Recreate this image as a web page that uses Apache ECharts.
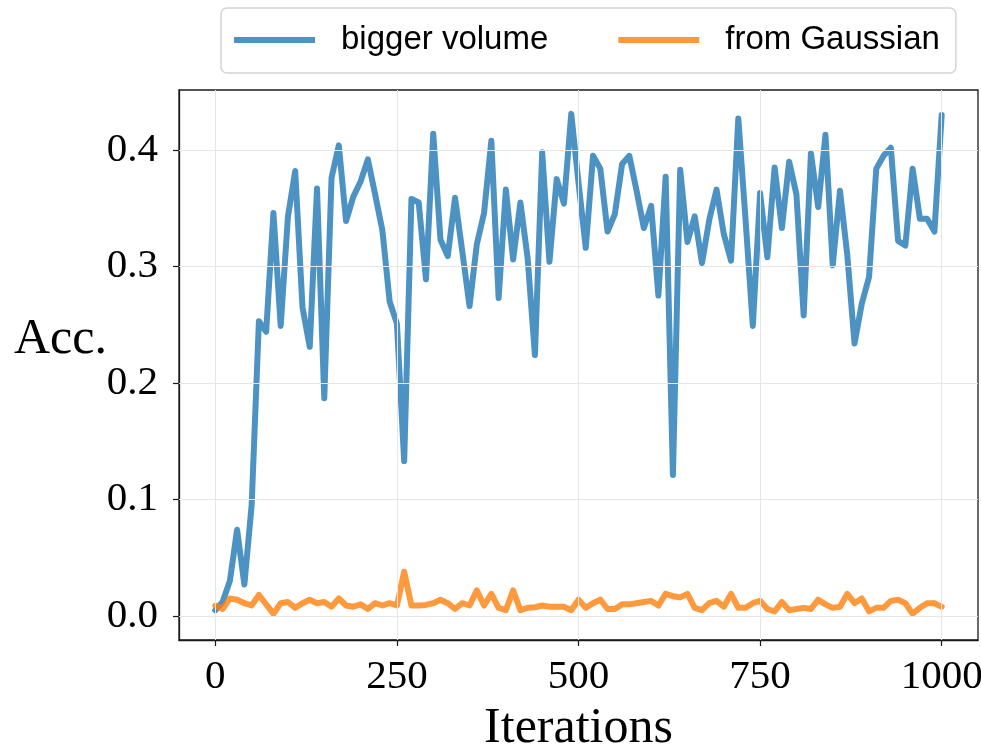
<!DOCTYPE html>
<html>
<head>
<meta charset="utf-8">
<style>
  html, body { margin: 0; padding: 0; background: #ffffff; }
  #chart { width: 981px; height: 747px; }
</style>
<script src="https://cdn.jsdelivr.net/npm/echarts@6/dist/echarts.min.js"></script>
</head>
<body>
<div id="chart"></div>
<script>
// Accuracy recorded every 10 iterations (0 … 1000)
const STEP = 10;
const iterations = Array.from({ length: 101 }, (_, i) => i * STEP);

const biggerVolume = [
  0.005, 0.012, 0.030, 0.074, 0.027, 0.095, 0.253, 0.244, 0.346, 0.249,
  0.343, 0.382, 0.265, 0.231, 0.367, 0.187, 0.376, 0.404, 0.339, 0.360,
  0.373, 0.392, 0.362, 0.331, 0.270, 0.251, 0.133, 0.358, 0.355, 0.289,
  0.414, 0.323, 0.309, 0.359, 0.313, 0.266, 0.319, 0.346, 0.408, 0.273,
  0.366, 0.306, 0.355, 0.307, 0.224, 0.398, 0.304, 0.375, 0.354, 0.431,
  0.372, 0.316, 0.395, 0.384, 0.330, 0.345, 0.388, 0.395, 0.365, 0.333,
  0.352, 0.275, 0.377, 0.121, 0.383, 0.321, 0.343, 0.303, 0.340, 0.366,
  0.328, 0.305, 0.427, 0.340, 0.249, 0.363, 0.308, 0.385, 0.333, 0.390,
  0.362, 0.258, 0.397, 0.351, 0.413, 0.301, 0.365, 0.310, 0.234, 0.268,
  0.291, 0.384, 0.395, 0.402, 0.322, 0.318, 0.384, 0.341, 0.341, 0.330,
  0.430
];

const fromGaussian = [
  0.009, 0.006, 0.015, 0.014, 0.011, 0.009, 0.018, 0.010, 0.002, 0.011,
  0.012, 0.007, 0.011, 0.014, 0.011, 0.012, 0.008, 0.015, 0.009, 0.008,
  0.010, 0.006, 0.011, 0.009, 0.011, 0.009, 0.038, 0.009, 0.009, 0.0095,
  0.011, 0.014, 0.011, 0.006, 0.011, 0.009, 0.022, 0.009, 0.019, 0.007,
  0.005, 0.022, 0.005, 0.007, 0.0075, 0.009, 0.008, 0.008, 0.008, 0.005,
  0.014, 0.007, 0.011, 0.014, 0.006, 0.006, 0.010, 0.010, 0.011, 0.012,
  0.013, 0.009, 0.019, 0.017, 0.016, 0.019, 0.007, 0.005, 0.011, 0.013,
  0.008, 0.019, 0.007, 0.007, 0.011, 0.013, 0.006, 0.004, 0.012, 0.005,
  0.006, 0.007, 0.006, 0.014, 0.010, 0.007, 0.008, 0.019, 0.011, 0.015,
  0.004, 0.007, 0.007, 0.013, 0.014, 0.011, 0.002, 0.007, 0.011, 0.011,
  0.008
];

const xTicks = [0, 250, 500, 750, 1000];
const yTicks = [0.0, 0.1, 0.2, 0.3, 0.4];

const seriesNames = ['bigger volume', 'from Gaussian'];
const seriesColors = ['rgba(31,119,180,0.8)', 'rgba(255,127,14,0.8)'];

// axis limits with 5% padding around the data
const xMin = -50, xMax = 1050;
const yMin = -0.0206, yMax = 0.4515;

const SERIF = "'Liberation Serif', 'DejaVu Serif', serif";
const SANS = "'Liberation Sans', 'DejaVu Sans', sans-serif";
const GRID_COLOR = '#e6e6e6';

function pairs(values) {
  return values.map((v, i) => [iterations[i], v]);
}

const chart = echarts.init(document.getElementById('chart'), null, { renderer: 'canvas' });

chart.setOption({
  animation: false,
  backgroundColor: '#ffffff',
  grid: {
    left: 179, right: 3, top: 90, bottom: 107,
    containLabel: false,
    outerBoundsMode: 'none',
    show: true,
    borderColor: '#1a1a1a',
    borderWidth: 1.3,
    backgroundColor: 'transparent'
  },
  legend: {
    data: seriesNames.map(n => ({ name: n, icon: 'rect' })),
    left: 221, top: 8,
    orient: 'horizontal',
    itemWidth: 81, itemHeight: 6,
    itemGap: 70,
    padding: [12, 16, 13, 13],
    borderColor: '#d4d4d4', borderWidth: 1.5, borderRadius: 6,
    backgroundColor: '#ffffff',
    textStyle: {
      fontFamily: SANS, fontSize: 33, color: '#000000',
      lineHeight: 40, padding: [0, 0, 0, 21]
    }
  },
  xAxis: {
    type: 'value',
    min: xMin, max: xMax,
    name: 'Iterations',
    nameLocation: 'middle',
    nameGap: 64,
    nameMoveOverlap: false,
    nameTextStyle: { fontFamily: SERIF, fontSize: 50, color: '#000000' },
    axisLine: { show: true, onZero: false, lineStyle: { color: '#1a1a1a', width: 1.3 } },
    axisTick: { show: true, inside: false, length: 6, customValues: xTicks,
      lineStyle: { color: '#1a1a1a', width: 1.2 } },
    axisLabel: { show: true, customValues: xTicks, margin: 17,
      fontFamily: SERIF, fontSize: 41, color: '#000000',
      formatter: v => String(v) },
    splitLine: { show: false }
  },
  yAxis: {
    type: 'value',
    min: yMin, max: yMax,
    name: 'Acc.',
    nameLocation: 'middle',
    nameRotate: 0,
    nameGap: 72,
    nameMoveOverlap: false,
    nameTextStyle: { fontFamily: SERIF, fontSize: 50, color: '#000000',
      verticalAlign: 'bottom', lineHeight: 50 },
    axisLine: { show: true, onZero: false, lineStyle: { color: '#1a1a1a', width: 1.3 } },
    axisTick: { show: true, inside: false, length: 6, customValues: yTicks,
      lineStyle: { color: '#1a1a1a', width: 1.2 } },
    axisLabel: { show: true, customValues: yTicks, margin: 21,
      fontFamily: SERIF, fontSize: 41, color: '#000000',
      formatter: v => v.toFixed(1) },
    splitLine: { show: false }
  },
  series: [
    {
      // light grid lines at the tick positions, kept under the data lines
      name: 'grid',
      type: 'line',
      data: [],
      silent: true,
      z: 1,
      markLine: {
        silent: true,
        symbol: 'none',
        label: { show: false },
        animation: false,
        lineStyle: { color: GRID_COLOR, width: 1, type: 'solid' },
        data: xTicks.map(v => ({ xAxis: v })).concat(yTicks.map(v => ({ yAxis: v })))
      }
    },
    {
      name: seriesNames[0],
      type: 'line',
      data: pairs(biggerVolume),
      showSymbol: false,
      symbol: 'none',
      z: 2,
      color: seriesColors[0],
      itemStyle: { color: seriesColors[0] },
      lineStyle: { color: seriesColors[0], width: 6, join: 'round', cap: 'round' }
    },
    {
      name: seriesNames[1],
      type: 'line',
      data: pairs(fromGaussian),
      showSymbol: false,
      symbol: 'none',
      z: 3,
      color: seriesColors[1],
      itemStyle: { color: seriesColors[1] },
      lineStyle: { color: seriesColors[1], width: 6, join: 'round', cap: 'round' }
    }
  ]
});
</script>
</body>
</html>
